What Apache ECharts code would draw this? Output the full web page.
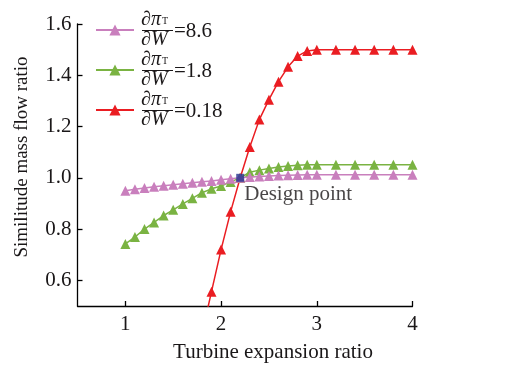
<!DOCTYPE html>
<html>
<head>
<meta charset="utf-8">
<script src="https://cdn.jsdelivr.net/npm/echarts@6/dist/echarts.min.js"></script>
<style>
html,body{margin:0;padding:0;background:#fff;}
#c{width:505px;height:368px;}
</style>
</head>
<body>
<div id="c"></div>
<script>
// ---- data ----
var xVals = [1.0,1.1,1.2,1.3,1.4,1.5,1.6,1.7,1.8,1.9,2.0,2.1,2.2,2.3,2.4,2.5,2.6,2.7,2.8,2.9,3.0,3.2,3.4,3.6,3.8,4.0];
var pinkVals = [0.950,0.955,0.960,0.965,0.969,0.973,0.977,0.981,0.985,0.988,0.992,0.996,1.000,1.003,1.005,1.007,1.009,1.010,1.011,1.012,1.012,1.012,1.012,1.012,1.012,1.012];
var greenVals = [0.742,0.769,0.800,0.826,0.853,0.875,0.898,0.920,0.942,0.957,0.968,0.984,1.000,1.022,1.030,1.036,1.042,1.046,1.049,1.051,1.051,1.051,1.051,1.051,1.051,1.051];
var redVals = [null,null,null,null,null,null,null,null,0.39,0.556,0.720,0.868,1.000,1.120,1.227,1.305,1.375,1.433,1.475,1.495,1.500,1.500,1.500,1.500,1.500,1.500];
var seriesNames = ['8.6','1.8','0.18'];
var designX = [2.2];
var designY = [1.0];
var designLabel = 'Design point';
var xTicks = [1,2,3,4];
var yTicks = [0.6,0.8,1.0,1.2,1.4,1.6];
var xTitle = 'Turbine expansion ratio';
var yTitle = 'Similitude mass flow ratio';

var colors = ['#c97fbd','#7ab342','#ea1d22'];
var FONT = "'Liberation Serif','Times New Roman',serif";
var TXT = '#1a1718';

function pairs(xs, ys){
  var out = [];
  for (var i=0;i<xs.length;i++){ if (ys[i]!==null) out.push([xs[i], ys[i]]); }
  return out;
}

var chart = echarts.init(document.getElementById('c'), null, {renderer:'canvas'});

var seriesVals = [pinkVals, greenVals, redVals];
var series = seriesVals.map(function(v, i){
  return {
    name: seriesNames[i],
    type: 'line',
    data: pairs(xVals, v),
    symbol: 'triangle',
    symbolSize: 10,
    clip: true,
    itemStyle: {color: colors[i]},
    lineStyle: {color: colors[i], width: 1.5},
    z: 2 + (2 - i)
  };
});
series.push({
  name: 'design',
  type: 'scatter',
  data: pairs(designX, designY),
  symbol: 'rect',
  symbolSize: 8,
  itemStyle: {color: '#26338e'},
  z: 10,
  label: {
    show: true,
    formatter: designLabel,
    position: [8, 21],
    align: 'left',
    verticalAlign: 'middle',
    fontFamily: FONT,
    fontSize: 21,
    color: TXT
  }
});

// legend fraction labels
var graphics = [];
for (var i=0;i<3;i++){
  var y0 = 30 + 40*i;
  graphics.push({
    type:'text', left: 141, top: y0-20,
    style:{
      text:'{a|∂}{b|π}{c|T}',
      rich:{
        a:{fontFamily:FONT,fontSize:20,fill:TXT,fontStyle:'italic'},
        b:{fontFamily:FONT,fontSize:20,fill:TXT,fontStyle:'italic'},
        c:{fontFamily:FONT,fontSize:10,fill:TXT,padding:[3,0,0,1]}
      }
    }
  });
  graphics.push({
    type:'line', shape:{x1:142,y1:y0+0.5,x2:173,y2:y0+0.5},
    style:{stroke:TXT,lineWidth:1}
  });
  graphics.push({
    type:'text', left: 141, top: y0-0.5,
    style:{
      text:'{a|∂}{b|W}',
      rich:{
        a:{fontFamily:FONT,fontSize:20,fill:TXT,fontStyle:'italic'},
        b:{fontFamily:FONT,fontSize:20,fill:TXT,fontStyle:'italic'}
      }
    }
  });
  graphics.push({
    type:'text', left: 174, top: y0-9.5,
    style:{ text:'=' + seriesNames[i], font:'21px ' + FONT, fill:TXT }
  });
}

chart.setOption({
  animation:false,
  backgroundColor:'#ffffff',
  grid:{left:77.5, right:92.5, top:24, bottom:62},
  legend:{
    show:true,
    data:seriesNames,
    orient:'vertical',
    left:95,
    top:23,
    padding:0,
    itemWidth:38,
    itemHeight:14,
    itemGap:26,
    formatter:function(){return ' ';},
    textStyle:{fontSize:10,lineHeight:14},
    selectedMode:false
  },
  xAxis:{
    type:'value', min:0.5, max:4,
    name:xTitle, nameLocation:'middle', nameGap:36,
    nameTextStyle:{fontFamily:FONT,fontSize:21,color:TXT,padding:[0,0,0,56]},
    axisLine:{lineStyle:{color:'#000',width:1.3}},
    axisTick:{show:true,inside:true,length:5,customValues:xTicks,lineStyle:{color:'#000',width:1.3}},
    axisLabel:{customValues:xTicks,fontFamily:FONT,fontSize:21,color:TXT,margin:8},
    splitLine:{show:false}
  },
  yAxis:{
    type:'value', min:0.5, max:1.6,
    name:yTitle, nameLocation:'middle', nameGap:46,
    nameTextStyle:{fontFamily:FONT,fontSize:19,color:TXT,padding:[0,0,0,16]},
    axisLine:{show:true,lineStyle:{color:'#000',width:1.3}},
    axisTick:{show:true,inside:true,length:5,customValues:yTicks,lineStyle:{color:'#000',width:1.3}},
    axisLabel:{customValues:yTicks,fontFamily:FONT,fontSize:21,color:TXT,margin:6,
      formatter:function(v){return v.toFixed(1);}},
    splitLine:{show:false}
  },
  graphic:graphics,
  series:series
});
</script>
</body>
</html>
